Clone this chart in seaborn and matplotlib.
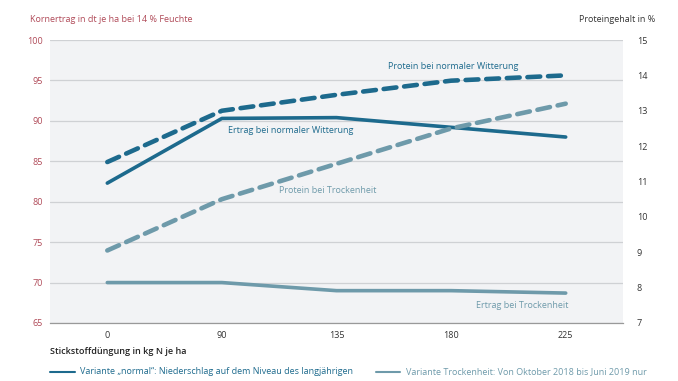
import numpy as np
import pandas as pd
import matplotlib
matplotlib.use("Agg")
import matplotlib.pyplot as plt
import seaborn as sns

# Daten
stickstoff = ["0", "90", "135", "180", "225"]
ertrag_normal = [82.3, 90.3, 90.4, 89.2, 88.0]
ertrag_trocken = [70.0, 70.0, 69.0, 69.0, 68.7]
protein_normal = [11.55, 13.0, 13.45, 13.85, 14.0]
protein_trocken = [9.05, 10.5, 11.5, 12.5, 13.2]

links_ticks = [65, 70, 75, 80, 85, 90, 95, 100]
rechts_ticks = [7, 8, 9, 10, 11, 12, 13, 14, 15]

dunkel = "#1d6a8d"
hell = "#6e9aaa"
rot = "#b04a58"

sns.set_theme(style="white")
plt.rcParams["font.family"] = ["Open Sans", "DejaVu Sans"]

pos = np.arange(len(stickstoff))
df = pd.DataFrame({"pos": pos,
                   "ertrag_normal": ertrag_normal,
                   "ertrag_trocken": ertrag_trocken,
                   "protein_normal": protein_normal,
                   "protein_trocken": protein_trocken})

fig = plt.figure(figsize=(6.78, 3.81), dpi=100)
ax = fig.add_axes([50 / 678, 1 - 323 / 381, 573 / 678, 283 / 381])
ax.set_facecolor("#f2f3f5")
ax2 = ax.twinx()

sns.lineplot(data=df, x="pos", y="ertrag_normal", ax=ax, color=dunkel, lw=2.6)
sns.lineplot(data=df, x="pos", y="ertrag_trocken", ax=ax, color=hell, lw=2.6)
sns.lineplot(data=df, x="pos", y="protein_normal", ax=ax2, color=dunkel, lw=3.3)
sns.lineplot(data=df, x="pos", y="protein_trocken", ax=ax2, color=hell, lw=3.3)
for l in ax2.lines:
    l.set_dashes((2.8, 1.7))
    l.set_dash_capstyle("round")

ax.set_xlim(-0.5, len(stickstoff) - 0.5)
ax.set_ylim(65, 100)
ax2.set_ylim(7, 15)
ax.set_yticks(links_ticks)
ax2.set_yticks(rechts_ticks)
ax.yaxis.grid(True, color="#cfd1d4", lw=0.9)
ax.set_axisbelow(True)

ax.set_xticks(pos)
ax.set_xticklabels(stickstoff)
ax.set_xticks(np.arange(-0.5, len(stickstoff)), minor=True)
ax.tick_params(axis="x", which="major", length=0, pad=6, labelsize=6.5, labelcolor="#333333")
ax.tick_params(axis="x", which="minor", length=4, direction="in", color="#999999", width=0.8)
ax.tick_params(axis="y", length=0, pad=5, labelsize=6.5, labelcolor=rot)
ax2.tick_params(axis="y", length=0, pad=10, labelsize=6.5, labelcolor="#333333")

for a in (ax, ax2):
    for s in ["top", "left", "right"]:
        a.spines[s].set_visible(False)
    a.set_xlabel("")
    a.set_ylabel("")
ax.spines["bottom"].set_color("#999999")
ax.spines["bottom"].set_linewidth(0.9)
ax2.spines["bottom"].set_visible(False)

# Achsentitel
fig.text(30 / 678, 1 - 20 / 381, "Kornertrag in dt je ha bei 14 % Feuchte",
         color=rot, fontsize=6.5, va="center")
fig.text(655 / 678, 1 - 20 / 381, "Proteingehalt in %",
         color="#333333", fontsize=6.5, va="center", ha="right")
fig.text(50 / 678, 1 - 352 / 381, "Stickstoffdüngung in kg N je ha",
         color="#222222", fontsize=6.5, va="center", fontweight="semibold")

# Beschriftungen der Linien
ax.text(2.45, 96.7, "Protein bei normaler Witterung", color=dunkel, fontsize=6.5, va="center")
ax.text(1.05, 88.8, "Ertrag bei normaler Witterung", color=dunkel, fontsize=6.5, va="center")
ax.text(1.5, 81.4, "Protein bei Trockenheit", color=hell, fontsize=6.5, va="center")
ax.text(4.02, 67.2, "Ertrag bei Trockenheit", color=hell, fontsize=6.5, va="center", ha="right")

# Legende
y_leg = 1 - 372 / 381
fig.add_artist(plt.Line2D([50 / 678, 75 / 678], [y_leg, y_leg], color=dunkel, lw=1.5))
fig.text(80 / 678, y_leg, "Variante \u201enormal\u201c: Niederschlag auf dem Niveau des langjährigen",
         color=dunkel, fontsize=6.5, va="center")
fig.add_artist(plt.Line2D([376 / 678, 400 / 678], [y_leg, y_leg], color=hell, lw=1.5))
fig.text(406 / 678, y_leg, "Variante Trockenheit: Von Oktober 2018 bis Juni 2019 nur",
         color=hell, fontsize=6.5, va="center")

fig.savefig("out.png", dpi=100, facecolor="white")
